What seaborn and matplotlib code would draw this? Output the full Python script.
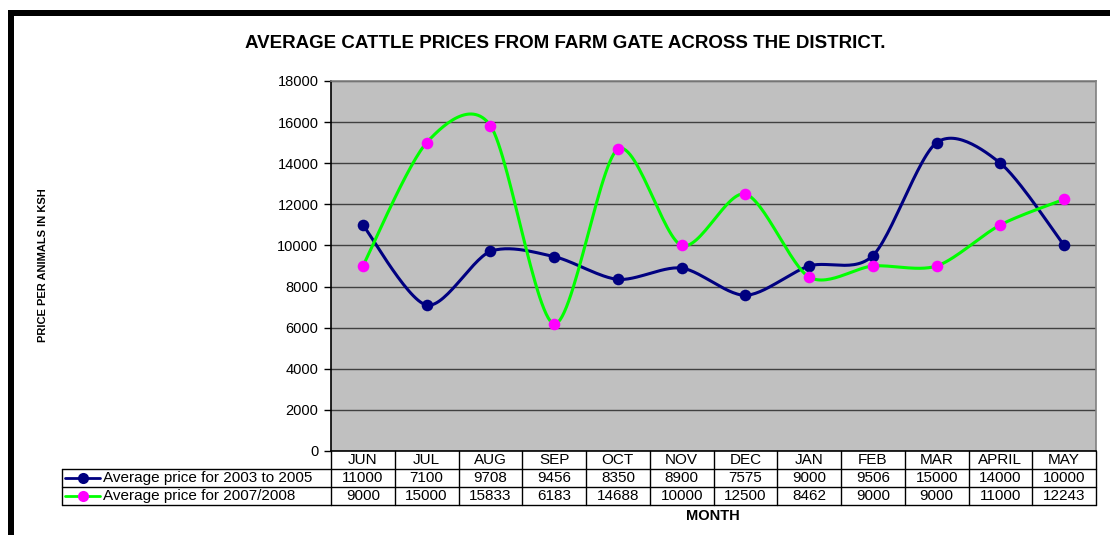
import numpy as np
import pandas as pd
import matplotlib
matplotlib.use("Agg")
import matplotlib.pyplot as plt
import matplotlib.transforms as mtransforms
from matplotlib.patches import Rectangle
from matplotlib.lines import Line2D
import seaborn as sns

months = ["JUN", "JUL", "AUG", "SEP", "OCT", "NOV", "DEC", "JAN", "FEB", "MAR", "APRIL", "MAY"]
series1_name = "Average price for 2003 to 2005"
series1 = [11000, 7100, 9708, 9456, 8350, 8900, 7575, 9000, 9506, 15000, 14000, 10000]
series2_name = "Average price for 2007/2008"
series2 = [9000, 15000, 15833, 6183, 14688, 10000, 12500, 8462, 9000, 9000, 11000, 12243]
yticks = [0, 2000, 4000, 6000, 8000, 10000, 12000, 14000, 16000, 18000]
title = "AVERAGE CATTLE PRICES FROM FARM GATE ACROSS THE DISTRICT."
ylabel = "PRICE PER ANIMALS IN KSH"
xlabel = "MONTH"

sns.set_theme(style="white")
plt.rcParams["font.family"] = ["Liberation Sans", "DejaVu Sans"]
plt.rcParams["text.color"] = "black"

W, H = 1110, 535
fig = plt.figure(figsize=(W / 100, H / 100), dpi=100)
fig.patch.set_facecolor("white")

def fx(px):
    return px / W

def fy(py):
    return 1 - py / H

ax = fig.add_axes([fx(331), fy(451), fx(1096) - fx(331), fy(81) - fy(451)])
ax.set_facecolor("#C0C0C0")


def smooth(xs, ys, n=30, k=7.0):
    """Bezier smoothing (Excel 'smoothed line' rendering) through the data points."""
    xs = np.asarray(xs, float)
    ys = np.asarray(ys, float)
    P = np.column_stack([xs, ys])
    Pp = np.vstack([P[0], P, P[-1]])
    out = []
    t = np.linspace(0, 1, n)[:, None]
    for i in range(len(P) - 1):
        p0, p3 = Pp[i + 1], Pp[i + 2]
        c1 = p0 + (Pp[i + 2] - Pp[i]) / k
        c2 = p3 - (Pp[i + 3] - Pp[i + 1]) / k
        seg = ((1 - t) ** 3) * p0 + 3 * ((1 - t) ** 2) * t * c1 + 3 * (1 - t) * t ** 2 * c2 + t ** 3 * p3
        out.append(seg if i == 0 else seg[1:])
    out = np.vstack(out)
    return out[:, 0], out[:, 1]


xpos = np.arange(len(months))
df = pd.DataFrame({"x": xpos, "s1": series1, "s2": series2})

for col, lc, mc in [("s1", "#000080", "#000080"), ("s2", "#00FF00", "#FF00FF")]:
    sx, sy = smooth(df["x"], df[col])
    sns.lineplot(x=sx, y=sy, sort=False, ax=ax, color=lc, linewidth=2.2, zorder=3)
    sns.scatterplot(x=df["x"], y=df[col], ax=ax, color=mc, s=70, edgecolor=mc,
                    linewidth=0, zorder=4, marker="o")

ax.set_xlim(-0.5, len(months) - 0.5)
ax.set_ylim(0, 18000)
ax.set_yticks(yticks)
ax.set_yticklabels([str(v) for v in yticks], fontsize=10.5, color="black")
ax.set_xticks([])
ax.yaxis.grid(True, color="#404040", linewidth=1)
ax.set_axisbelow(True)
ax.tick_params(axis="y", which="both", left=True, length=5, width=1, color="black", pad=4)
for side in ["left", "bottom"]:
    ax.spines[side].set_color("black")
    ax.spines[side].set_linewidth(1.2)
for side in ["top", "right"]:
    ax.spines[side].set_color("#808080")
    ax.spines[side].set_linewidth(1.2)
ax.set_xlabel("")
ax.set_ylabel("")

# ---- data table below the plot ----
bt = mtransforms.blended_transform_factory(ax.transData, fig.transFigure)
ft = fig.transFigure
rows_px = [451, 469, 487, 505]
lc = "black"
lw = 1.0
x0 = -0.5
x1 = len(months) - 0.5
for r in rows_px[1:]:
    fig.add_artist(Line2D([fx(62), fx(331)], [fy(r), fy(r)], transform=ft, color=lc, lw=lw))
    fig.add_artist(Line2D([x0, x1], [fy(r), fy(r)], transform=bt, color=lc, lw=lw))
for k in range(len(months) + 1):
    fig.add_artist(Line2D([x0 + k, x0 + k], [fy(451), fy(505)], transform=bt, color=lc, lw=lw))
fig.add_artist(Line2D([fx(62), fx(62)], [fy(469), fy(505)], transform=ft, color=lc, lw=lw))

tfs = 11
for i, m in enumerate(months):
    fig.text(i, fy(460), m, transform=bt, ha="center", va="center", fontsize=tfs)
    fig.text(i, fy(478), str(series1[i]), transform=bt, ha="center", va="center", fontsize=tfs)
    fig.text(i, fy(496), str(series2[i]), transform=bt, ha="center", va="center", fontsize=tfs)

for ry, name, lcol, mcol in [(478, series1_name, "#000080", "#000080"),
                             (496, series2_name, "#00FF00", "#FF00FF")]:
    fig.add_artist(Line2D([fx(65), fx(100)], [fy(ry), fy(ry)], transform=ft, color=lcol, lw=2))
    fig.add_artist(Line2D([fx(83)], [fy(ry)], transform=ft, color=mcol, marker="o",
                          markersize=8, markeredgewidth=0, linestyle="none"))
    fig.text(fx(103), fy(ry), name, ha="left", va="center", fontsize=tfs)

fig.text(fx(565), fy(43), title, ha="center", va="center", fontsize=13.5, fontweight="bold")
fig.text(fx(713), fy(516), xlabel, ha="center", va="center", fontsize=10.5, fontweight="bold")
fig.text(fx(43), fy(265), ylabel, ha="center", va="center", rotation=90, fontsize=8,
         fontweight="bold", family=["Liberation Sans Narrow", "Liberation Sans", "DejaVu Sans"])

fig.add_artist(Rectangle((fx(8), fy(16)), 1 - fx(8), fy(10) - fy(16), transform=ft,
                         facecolor="black", edgecolor="none"))
fig.add_artist(Rectangle((fx(8), 0), fx(14) - fx(8), fy(10), transform=ft,
                         facecolor="black", edgecolor="none"))

fig.savefig("out.png", dpi=100, facecolor="white")
